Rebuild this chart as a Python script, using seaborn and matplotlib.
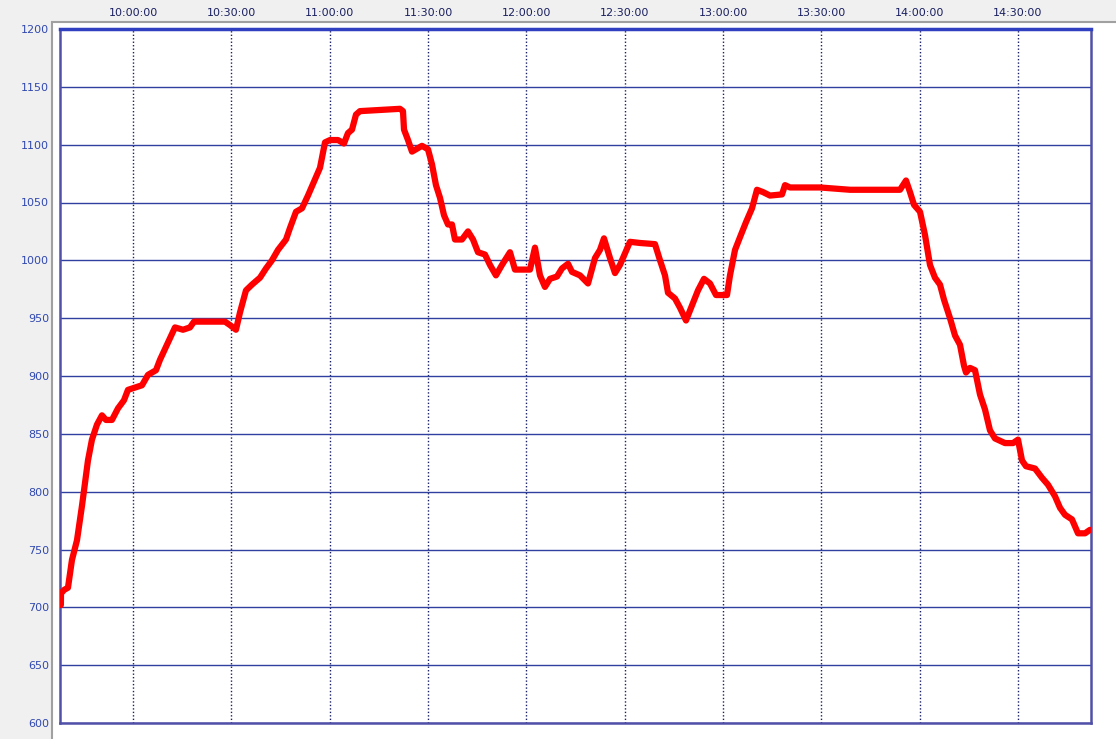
import pandas as pd
import numpy as np
import matplotlib.pyplot as plt
import matplotlib.dates as mdates
from matplotlib.patches import Rectangle
import seaborn as sns

# readings (time of day, value)
times = [
    "09:38:00", "09:38:02", "09:38:57", "09:40:10", "09:41:23", "09:42:55", "09:44:27",
    "09:46:16", "09:47:29", "09:49:01", "09:50:32", "09:51:46", "09:53:35", "09:55:25",
    "09:57:15", "09:58:28", "10:00:37", "10:02:45", "10:04:35", "10:07:01", "10:08:14",
    "10:10:22", "10:12:49", "10:15:15", "10:17:23", "10:18:37", "10:23:29", "10:28:04",
    "10:29:36", "10:31:25", "10:32:39", "10:34:28", "10:36:18", "10:38:45", "10:40:35",
    "10:42:24", "10:44:14", "10:46:41", "10:47:54", "10:49:44", "10:51:34", "10:53:23",
    "10:55:13", "10:57:03", "10:58:35", "11:00:06", "11:02:33", "11:04:22", "11:05:35",
    "11:06:49", "11:08:02", "11:09:15", "11:15:21", "11:21:27", "11:22:22", "11:22:41",
    "11:23:54", "11:25:07", "11:26:57", "11:28:10", "11:30:00", "11:31:13", "11:32:26",
    "11:33:40", "11:34:53", "11:36:06", "11:37:19", "11:38:14", "11:40:22", "11:42:12",
    "11:43:44", "11:45:15", "11:47:23", "11:48:55", "11:50:44", "11:52:34", "11:55:01",
    "11:56:32", "11:59:35", "12:01:07", "12:02:38", "12:04:10", "12:05:41", "12:07:13",
    "12:09:21", "12:10:53", "12:12:43", "12:13:56", "12:16:22", "12:18:49", "12:20:57",
    "12:22:28", "12:23:41", "12:25:31", "12:27:03", "12:28:34", "12:31:37", "12:34:41",
    "12:39:15", "12:40:47", "12:42:18", "12:43:13", "12:45:21", "12:46:53", "12:48:43",
    "12:50:32", "12:52:22", "12:54:12", "12:56:02", "12:57:52", "13:01:13", "13:02:08",
    "13:03:40", "13:05:11", "13:07:01", "13:08:51", "13:10:22", "13:12:12", "13:14:20",
    "13:18:00", "13:18:55", "13:20:26", "13:29:35", "13:38:45", "13:47:54", "13:54:00",
    "13:55:50", "13:57:03", "13:58:16", "14:00:06", "14:01:37", "14:03:09", "14:04:40",
    "14:06:12", "14:07:25", "14:09:15", "14:10:47", "14:12:18", "14:13:31", "14:14:08",
    "14:15:21", "14:16:53", "14:18:24", "14:19:56", "14:21:27", "14:22:59", "14:26:02",
    "14:28:28", "14:30:00", "14:31:13", "14:32:26", "14:35:11", "14:37:19", "14:39:09",
    "14:41:17", "14:42:49", "14:44:20", "14:46:28", "14:48:18", "14:50:26", "14:51:58",
]
values = [
    702, 712, 715, 717, 741, 758, 788,
    827, 845, 858, 866, 862, 862, 872,
    879, 888, 890, 892, 901, 905, 914,
    927, 942, 940, 942, 947, 947, 947,
    944, 940, 955, 974, 979, 985, 993,
    1000, 1009, 1018, 1028, 1042, 1045, 1056,
    1068, 1080, 1102, 1104, 1104, 1101, 1110,
    1113, 1126, 1129, 1130, 1131, 1129, 1113,
    1104, 1094, 1097, 1099, 1096, 1083, 1065,
    1054, 1039, 1031, 1031, 1018, 1018, 1025,
    1018, 1007, 1005, 996, 987, 996, 1007,
    992, 992, 992, 1011, 987, 977, 984,
    986, 993, 997, 990, 987, 980, 1002,
    1009, 1019, 1002, 989, 996, 1016, 1015,
    1014, 1000, 987, 972, 967, 959, 948,
    961, 974, 984, 980, 970, 970, 987,
    1009, 1020, 1033, 1045, 1061, 1059, 1056,
    1057, 1065, 1063, 1063, 1061, 1061, 1061,
    1069, 1059, 1048, 1042, 1022, 996, 985,
    979, 966, 950, 935, 927, 909, 903,
    907, 905, 884, 871, 853, 846, 842,
    842, 845, 827, 822, 820, 812, 806,
    796, 786, 780, 776, 764, 764, 767,
]

y_ticks = [600, 650, 700, 750, 800, 850, 900, 950, 1000, 1050, 1100, 1150, 1200]

df = pd.DataFrame({"time": pd.to_datetime(["2020-01-01 " + t for t in times]), "value": values})

sns.set_style("white")
plt.rcParams["font.family"] = ["DejaVu Sans"]

fig = plt.figure(figsize=(11.16, 7.39), dpi=100, facecolor="#f0f0f0")
# white panel with gray frame behind the plot
fig.add_artist(Rectangle((52 / 1116, -0.01), 1.0, (739 - 22) / 739 + 0.01, transform=fig.transFigure,
                         facecolor="white", edgecolor="#a0a0a0", lw=1.5, zorder=0))
ax = fig.add_axes([60 / 1116, 16 / 739, 1031 / 1116, 694 / 739])
ax.set_facecolor("white")

sns.lineplot(data=df, x="time", y="value", ax=ax, color="#ff0000", linewidth=4.5, zorder=3)

ax.set_ylim(600, 1200)
ax.set_yticks(y_ticks)
ax.set_xlim(pd.Timestamp("2020-01-01 09:37:44"), pd.Timestamp("2020-01-01 14:52:16"))
ax.xaxis.set_major_locator(mdates.MinuteLocator(byminute=[0, 30]))
ax.xaxis.set_major_formatter(mdates.DateFormatter("%H:%M:%S"))
ax.xaxis.tick_top()

ax.grid(axis="y", color="#3040a0", linestyle="-", linewidth=1)
ax.grid(axis="x", color="#1a2060", linestyle=(0, (1, 1.5)), linewidth=1)
ax.set_axisbelow(True)

ax.tick_params(axis="y", length=0, pad=8, labelsize=8, labelcolor="#3048b0")
ax.tick_params(axis="x", length=0, pad=8, labelsize=8, labelcolor="#1a2060")
ax.set_xlabel("")
ax.set_ylabel("")

for side in ["left", "right", "bottom"]:
    ax.spines[side].set_color("#5050a8")
    ax.spines[side].set_linewidth(1.8)
ax.spines["top"].set_color("#3040c0")
ax.spines["top"].set_linewidth(2.5)

fig.savefig("out.png", dpi=100, facecolor=fig.get_facecolor())
